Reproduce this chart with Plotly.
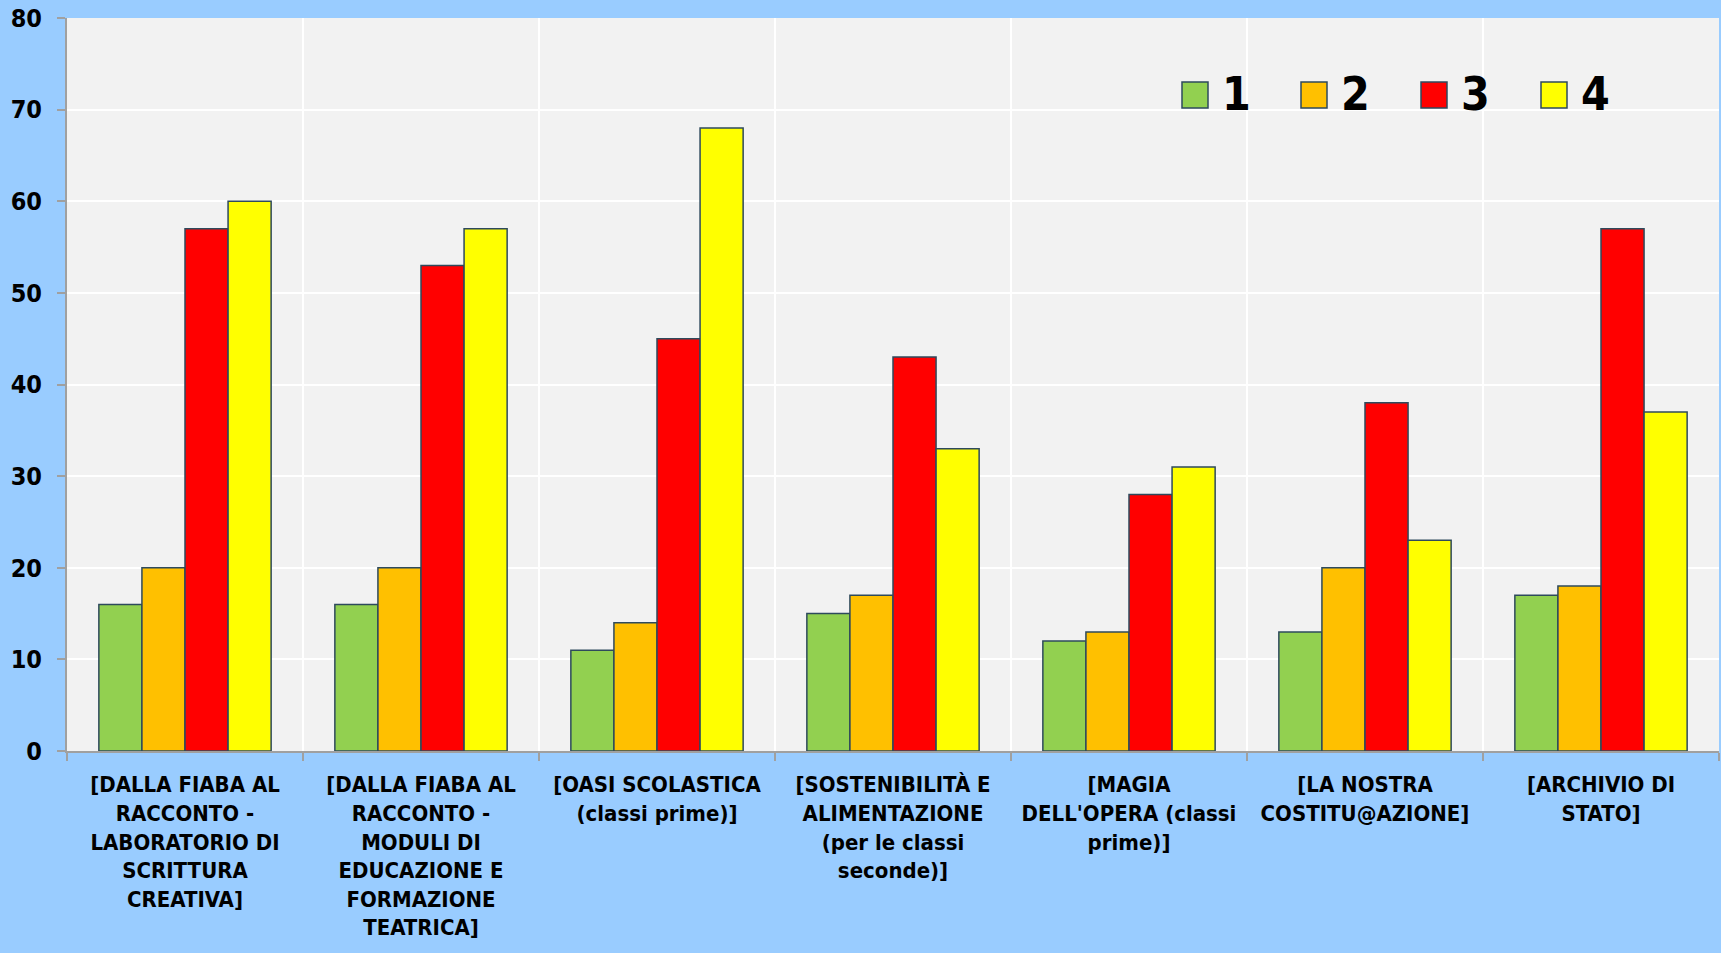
import plotly.graph_objects as go

categories = [
    "[DALLA FIABA AL<br>RACCONTO -<br>LABORATORIO DI<br>SCRITTURA<br>CREATIVA]",
    "[DALLA FIABA AL<br>RACCONTO -<br>MODULI DI<br>EDUCAZIONE E<br>FORMAZIONE<br>TEATRICA]",
    "[OASI SCOLASTICA<br>(classi prime)]",
    "[SOSTENIBILITÀ E<br>ALIMENTAZIONE<br>(per le classi<br>seconde)]",
    "[MAGIA<br>DELL'OPERA (classi<br>prime)]",
    "[LA NOSTRA<br>COSTITU@AZIONE]",
    "[ARCHIVIO DI<br>STATO]",
]
series_names = ["1", "2", "3", "4"]
s1 = [16, 16, 11, 15, 12, 13, 17]
s2 = [20, 20, 14, 17, 13, 20, 18]
s3 = [57, 53, 45, 43, 28, 38, 57]
s4 = [60, 57, 68, 33, 31, 23, 37]
series_values = [s1, s2, s3, s4]
colors = ["#92D050", "#FFC000", "#FF0000", "#FFFF00"]
y_ticks = [0, 10, 20, 30, 40, 50, 60, 70, 80]

FONT = "DejaVu Sans Condensed, DejaVu Sans, sans-serif"
OUTLINE = "#2E4A5C"

fig = go.Figure()
for name, vals, col in zip(series_names, series_values, colors):
    fig.add_trace(go.Bar(
        x=categories, y=vals, name=name,
        marker=dict(color=col, line=dict(color=OUTLINE, width=1.5)),
        showlegend=False,
    ))

# manual legend (large squares + big labels)
W, H = 1721, 953
L, R, T, B = 67, 2, 18, 202
pw, ph = W - L - R, H - T - B
sq_x = [1182, 1301, 1421, 1541]
for name, col, x0 in zip(series_names, colors, sq_x):
    fx0 = (x0 - L) / pw
    fx1 = (x0 + 26 - L) / pw
    fy0 = 1 - (108 - T) / ph
    fy1 = 1 - (82 - T) / ph
    fig.add_shape(type="rect", xref="paper", yref="paper",
                  x0=fx0, x1=fx1, y0=fy0, y1=fy1,
                  fillcolor=col, line=dict(color=OUTLINE, width=1.5))
    fig.add_annotation(xref="paper", yref="paper",
                       x=(x0 + 38 - L) / pw, y=1 - (94 - T) / ph,
                       xanchor="left", yanchor="middle", showarrow=False,
                       text=name, font=dict(family=FONT, size=46, color="black", weight="bold"))

fig.update_layout(
    width=W, height=H,
    margin=dict(l=L, r=R, t=T, b=B, pad=0),
    paper_bgcolor="#99CCFF",
    plot_bgcolor="#F2F2F2",
    barmode="group",
    bargap=0.27,
    bargroupgap=0,
    font=dict(family=FONT, color="black"),
    xaxis=dict(
        type="category",
        tickson="boundaries",
        showgrid=True, gridcolor="white", gridwidth=2,
        ticks="outside", ticklen=8, tickcolor="#A0A0A0", tickwidth=2,
        showline=True, linecolor="#A0A0A0", linewidth=2,
        tickfont=dict(family=FONT, size=22, color="black", weight="bold"),
        tickangle=0,
        ticklabelstandoff=13,
    ),
    yaxis=dict(
        range=[0, 80], tickvals=y_ticks,
        showgrid=True, gridcolor="white", gridwidth=2,
        ticks="outside", ticklen=8, tickcolor="#A0A0A0", tickwidth=2,
        showline=True, linecolor="#A0A0A0", linewidth=2,
        tickfont=dict(family=FONT, size=25, color="black", weight="bold"),
        ticklabelstandoff=10,
        zeroline=False,
    ),
)

fig.write_html("out.html",
               config={"displayModeBar": False},
               post_script="document.body.style.margin='0';document.body.style.padding='0';document.body.style.overflow='hidden';")
